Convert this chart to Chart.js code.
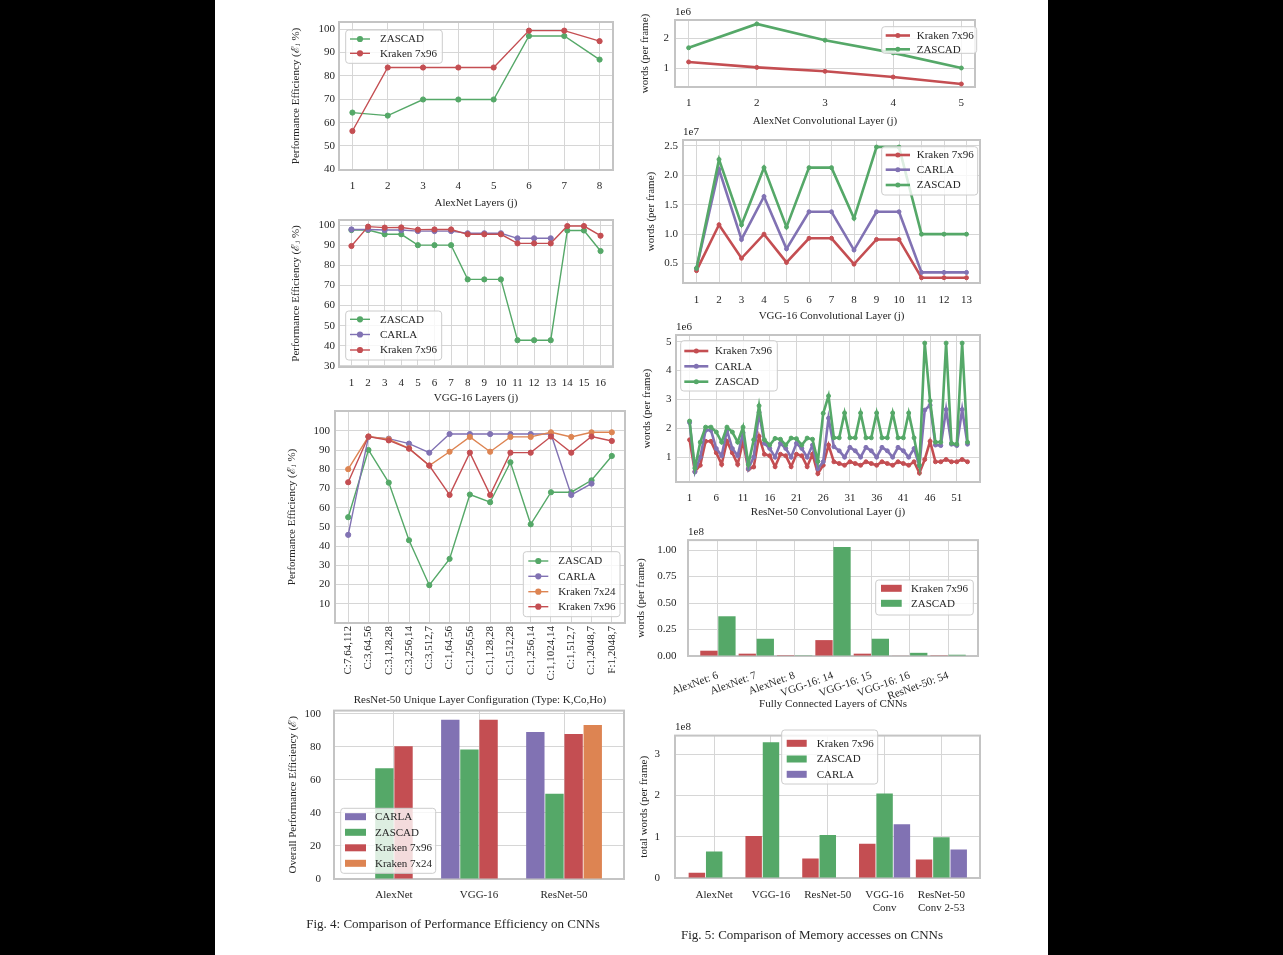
<!DOCTYPE html>
<html>
<head>
<meta charset="utf-8">
<script src="https://cdn.jsdelivr.net/npm/chart.js@4.4.0/dist/chart.umd.min.js"></script>
<style>
  html, body { margin: 0; padding: 0; width: 1283px; height: 955px; overflow: hidden; background: #000; }
  #paper { position: absolute; left: 215px; top: 0; width: 833px; height: 955px; background: #fff; }
  canvas { position: absolute; }
  .cap { position: absolute; font-family: 'Liberation Serif', 'Times New Roman', serif; font-size: 13px;
         color: #262626; white-space: nowrap; transform: translate(-50%, -50%); }
</style>
</head>
<body>
<div id="paper"></div>
<div id="charts"></div>
<div class="cap" style="left:453px; top:924px">Fig. 4: Comparison of Performance Efficiency on CNNs</div>
<div class="cap" style="left:812px; top:935px">Fig. 5: Comparison of Memory accesses on CNNs</div>
<script>
// ---- Fig. 4 data: performance efficiency (%) ----
const alexLayers = [1, 2, 3, 4, 5, 6, 7, 8];
const alexEffZascad = [64.3, 63, 69.9, 69.9, 69.9, 97.1, 97.1, 87];
const alexEffKraken96 = [56.4, 83.6, 83.6, 83.6, 83.6, 99.4, 99.4, 94.9];

const vggLayers = [1, 2, 3, 4, 5, 6, 7, 8, 9, 10, 11, 12, 13, 14, 15, 16];
const vggEffZascad = [97.5, 97.5, 95.4, 95.4, 90, 90, 90, 73, 73, 73, 42.8, 42.8, 42.8, 97.3, 97.3, 87.1];
const vggEffCarla = [97.8, 97.8, 97.5, 97.5, 97, 97, 97, 95.9, 95.9, 95.9, 93.4, 93.4, 93.4, null, null, null];
const vggEffKraken96 = [89.6, 99.2, 98.7, 98.8, 97.7, 97.8, 97.8, 95.4, 95.4, 95.4, 90.9, 90.9, 90.9, 99.5, 99.5, 94.7];

const resUnique = ['C:7,64,112', 'C:3,64,56', 'C:3,128,28', 'C:3,256,14', 'C:3,512,7', 'C:1,64,56', 'C:1,256,56',
  'C:1,128,28', 'C:1,512,28', 'C:1,256,14', 'C:1,1024,14', 'C:1,512,7', 'C:1,2048,7', 'F:1,2048,7'];
const resEffZascad = [55.1, 90.1, 73.1, 43.1, 19.7, 33.4, 66.9, 62.9, 83.7, 51.4, 68.1, 68.1, 74.3, 87];
const resEffCarla = [45.9, 96.9, 96, 93.4, 88.7, 98.4, 98.4, 98.4, 98.4, 98.4, 98.4, 66.7, 72.6, null];
const resEffKraken24 = [80.1, 97.1, 95.7, 91, 82, 89.2, 96.9, 89.2, 96.9, 96.9, 99.3, 96.9, 99.3, 99.3];
const resEffKraken96 = [73.3, 97.1, 95.1, 90.8, 82, 66.7, 88.7, 66.7, 88.7, 88.7, 97.1, 88.7, 97.1, 94.8];

const nets = ['AlexNet', 'VGG-16', 'ResNet-50'];
const overallCarla = [null, 96.4, 89.1];
const overallZascad = [67.1, 78.4, 51.7];
const overallKraken96 = [80.4, 96.4, 87.9];
const overallKraken24 = [null, null, 93.3];

// ---- Fig. 5 data: memory accesses (words per frame, in units of the axis offset) ----
const alexConvLayers = [1, 2, 3, 4, 5];                       // x1e6
const alexConvKraken96 = [1.22, 1.04, 0.91, 0.72, 0.49];
const alexConvZascad = [1.69, 2.48, 1.94, 1.52, 1.02];

const vggConvLayers = [1, 2, 3, 4, 5, 6, 7, 8, 9, 10, 11, 12, 13]; // x1e7
const vggConvKraken96 = [0.38, 1.16, 0.59, 1.0, 0.52, 0.93, 0.93, 0.49, 0.91, 0.91, 0.26, 0.26, 0.26];
const vggConvCarla = [0.42, 2.1, 0.91, 1.64, 0.75, 1.38, 1.38, 0.73, 1.38, 1.38, 0.35, 0.35, 0.35];
const vggConvZascad = [0.42, 2.27, 1.16, 2.13, 1.12, 2.13, 2.13, 1.27, 2.48, 2.48, 1.0, 1.0, 1.0];

const resConvLayers = Array.from({ length: 53 }, (_, i) => i + 1); // x1e6
const resConvKraken96 = [1.6, 0.5, 0.72, 1.55, 1.55, 1.15, 0.75, 1.55, 1.15, 0.75, 1.55,
  0.58, 0.66, 1.72, 1.1, 1.05, 0.67, 1.1, 1.05, 0.67, 1.1, 1.05, 0.67, 1.1,
  0.43, 0.72, 1.42, 0.84, 0.78, 0.72, 0.84, 0.78, 0.72, 0.84, 0.78, 0.72, 0.84, 0.78, 0.72, 0.84, 0.78, 0.72, 0.84,
  0.45, 0.92, 1.55, 0.84, 0.84, 0.92, 0.84, 0.84, 0.92, 0.84];
const resConvCarla = [2.2, 0.49, 1.0, 1.93, 1.93, 1.3, 1.05, 1.93, 1.3, 1.05, 1.85,
  0.6, 1.0, 2.55, 1.48, 1.3, 1.0, 1.48, 1.3, 1.0, 1.48, 1.3, 1.0, 1.42,
  0.6, 0.84, 2.35, 1.36, 1.22, 1.0, 1.34, 1.22, 1.0, 1.34, 1.22, 1.0, 1.34, 1.22, 1.0, 1.34, 1.22, 1.0, 1.3,
  0.7, 2.63, 2.8, 1.42, 1.4, 2.65, 1.45, 1.4, 2.65, 1.45];
const resConvZascad = [2.25, 0.62, 1.52, 2.04, 2.04, 1.87, 1.52, 2.04, 1.87, 1.52, 2.04,
  0.75, 1.6, 2.78, 1.6, 1.42, 1.65, 1.62, 1.42, 1.66, 1.64, 1.42, 1.66, 1.62,
  0.85, 2.52, 3.12, 1.67, 1.67, 2.53, 1.67, 1.67, 2.53, 1.67, 1.67, 2.53, 1.67, 1.67, 2.53, 1.67, 1.67, 2.53, 1.67,
  0.72, 4.95, 2.95, 1.52, 1.52, 4.95, 1.48, 1.45, 4.95, 1.52];

const fcLayers = ['AlexNet: 6', 'AlexNet: 7', 'AlexNet: 8', 'VGG-16: 14', 'VGG-16: 15', 'VGG-16: 16', 'ResNet-50: 54']; // x1e8
const fcKraken96 = [0.05, 0.022, 0.001, 0.15, 0.022, 0.004, 0.002];
const fcZascad = [0.375, 0.163, 0.002, 1.03, 0.163, 0.03, 0.012];

const totalNets = [['AlexNet'], ['VGG-16'], ['ResNet-50'], ['VGG-16', 'Conv'], ['ResNet-50', 'Conv 2-53']]; // x1e8
const totalKraken96 = [0.125, 1.02, 0.47, 0.83, 0.45];
const totalZascad = [0.64, 3.29, 1.04, 2.05, 0.99];
const totalCarla = [null, null, null, 1.3, 0.69];

// seaborn "deep"
const GREEN = '#55a868', RED = '#c44e52', PURPLE = '#8172b3', ORANGE = '#dd8452';
const INK = '#262626';
const FONT = "'Liberation Serif', 'Times New Roman', 'DejaVu Serif', serif";

Chart.defaults.font.family = FONT;
Chart.defaults.font.size = 11;
Chart.defaults.color = INK;
Chart.defaults.animation = false;

// frame round the plot area, "1eN" offset text and a matplotlib-like legend box
const paperFrame = {
  id: 'paperFrame',
  beforeDatasetsDraw(chart) {
    const a = chart.chartArea, c = chart.ctx;
    c.save();
    c.strokeStyle = '#c4c4c4';
    c.lineWidth = 2;
    c.strokeRect(a.left, a.top, a.right - a.left, a.bottom - a.top);
    c.restore();
  },
  afterDraw(chart, args, opts) {
    const c = chart.ctx, a = chart.chartArea;
    c.save();
    c.font = '11px ' + FONT;
    c.fillStyle = INK;
    c.textAlign = 'left';
    c.textBaseline = 'middle';
    if (opts.offsetText) c.fillText(opts.offsetText, a.left, a.top - 8);
    const L = opts.legend;
    if (L) {
      const ox = opts.ox, oy = opts.oy;
      const l = L.box[0] - ox, t = L.box[1] - oy, w = L.box[2] - L.box[0], h = L.box[3] - L.box[1], r = 3;
      c.beginPath();
      c.moveTo(l + r, t);
      c.arcTo(l + w, t, l + w, t + h, r);
      c.arcTo(l + w, t + h, l, t + h, r);
      c.arcTo(l, t + h, l, t, r);
      c.arcTo(l, t, l + w, t, r);
      c.closePath();
      c.fillStyle = 'rgba(255,255,255,0.8)';
      c.fill();
      c.strokeStyle = '#cccccc';
      c.lineWidth = 1;
      c.stroke();
      chart.data.datasets.forEach((ds, i) => {
        const y = L.rows[i] - oy, x1 = L.sample[0] - ox, x2 = L.sample[1] - ox;
        if (L.kind === 'bar') {
          c.fillStyle = ds.backgroundColor;
          c.fillRect(x1, y - 3.5, x2 - x1, 7);
        } else {
          c.strokeStyle = ds.borderColor;
          c.lineWidth = ds.borderWidth;
          c.beginPath(); c.moveTo(x1, y); c.lineTo(x2, y); c.stroke();
          c.fillStyle = ds.borderColor;
          c.beginPath(); c.arc((x1 + x2) / 2, y, ds.pointRadius + 0.5, 0, Math.PI * 2); c.fill();
        }
        c.fillStyle = INK;
        c.fillText(ds.label, L.textX - ox, y + 0.5);
      });
    }
    c.restore();
  }
};

function pts(xs, ys) {
  return ys.map((y, i) => ({ x: xs[i], y: y })).filter(p => p.y !== null);
}

function lineSet(label, color, xs, ys, thick) {
  return {
    label: label, data: pts(xs, ys), borderColor: color, backgroundColor: color,
    borderWidth: thick ? 2.6 : 1.4, pointRadius: thick ? 2 : 2.6, pointBorderWidth: 1,
    pointBackgroundColor: color, pointBorderColor: color, tension: 0
  };
}

function barSet(label, color, ys) {
  return { label: label, data: pts(ys.map((_, i) => i), ys), backgroundColor: color, borderWidth: 0 };
}

function axis(min, max, values, o) {
  o = o || {};
  return {
    type: 'linear', min: min, max: max, offset: false,
    grid: { color: '#d6d6d6', lineWidth: 1, drawTicks: false, offset: false },
    border: { display: false },
    afterBuildTicks: s => { s.ticks = values.map(v => ({ value: v })); },
    ticks: {
      autoSkip: false, minRotation: o.rot || 0, maxRotation: o.rot || 0,
      padding: o.pad == null ? 10 : o.pad, labelOffset: o.shift || 0,
      callback: o.fmt || (v => String(v))
    },
    title: o.title
      ? { display: true, text: o.title, padding: 0, font: { size: 11, lineHeight: 1.2 } }
      : { display: false }
  };
}

// box: plot area in page pixels, yt = centre x of the y title, xb = bottom of the x-axis block
function place(box, type, datasets, xAxis, yAxis, frame) {
  const left = Math.round(box.yt - 6.6), top = box.t - 16, right = box.r + 12;
  const cv = document.createElement('canvas');
  cv.width = right - left;
  cv.height = Math.round(box.xb - top);
  cv.style.left = left + 'px';
  cv.style.top = top + 'px';
  document.getElementById('charts').appendChild(cv);
  xAxis.afterFit = s => { s.height = cv.height - (box.b - top); };
  yAxis.afterFit = s => { s.width = box.l - left; };
  // matplotlib draws later lines on top (bars keep their group order)
  if (type === 'line') datasets.forEach((d, i) => { d.order = datasets.length - 1 - i; });
  return new Chart(cv, {
    type: type,
    data: { datasets: datasets },
    options: {
      responsive: false,
      animation: false,
      categoryPercentage: frame.cat || 0.8,
      barPercentage: frame.barPct || 1,
      layout: { padding: { left: 0, right: right - box.r, top: box.t - top, bottom: 0 } },
      scales: { x: xAxis, y: yAxis },
      plugins: {
        legend: { display: false },
        tooltip: { enabled: false },
        paperFrame: Object.assign({ ox: left, oy: top }, frame)
      }
    },
    plugins: [paperFrame]
  });
}

const EFF = 'Performance Efficiency (\u2130\u2C7C %)';
const WORDS = 'words (per frame)';
const tens = (a, b) => { const r = []; for (let v = a; v <= b; v += 10) r.push(v); return r; };

// ---------- Fig. 4 ----------
place({ l: 339, r: 613, t: 22, b: 170, yt: 297, xb: 210 }, 'line',
  [lineSet('ZASCAD', GREEN, alexLayers, alexEffZascad), lineSet('Kraken 7x96', RED, alexLayers, alexEffKraken96)],
  axis(0.62, 8.38, alexLayers, { title: 'AlexNet Layers (j)' }),
  axis(39.7, 103.1, tens(40, 100), { title: EFF, pad: 4 }),
  { legend: { box: [345.7, 30, 442.3, 63.3], rows: [39, 53.3], sample: [350, 370], textX: 380 } });

place({ l: 339, r: 613, t: 220, b: 367, yt: 297, xb: 405 }, 'line',
  [lineSet('ZASCAD', GREEN, vggLayers, vggEffZascad), lineSet('CARLA', PURPLE, vggLayers, vggEffCarla),
   lineSet('Kraken 7x96', RED, vggLayers, vggEffKraken96)],
  axis(0.25, 16.75, vggLayers, { title: 'VGG-16 Layers (j)' }),
  axis(29.5, 102.5, tens(30, 100), { title: EFF, pad: 4 }),
  { legend: { box: [345.7, 311, 441.7, 360], rows: [319.3, 334.5, 350], sample: [350, 370], textX: 380 } });

const resIdx = resUnique.map((_, i) => i);
place({ l: 335, r: 625, t: 411, b: 623, yt: 292.7, xb: 706.6 }, 'line',
  [lineSet('ZASCAD', GREEN, resIdx, resEffZascad), lineSet('CARLA', PURPLE, resIdx, resEffCarla),
   lineSet('Kraken 7x24', ORANGE, resIdx, resEffKraken24), lineSet('Kraken 7x96', RED, resIdx, resEffKraken96)],
  axis(-0.65, 13.65, resIdx, { title: 'ResNet-50 Unique Layer Configuration (Type: K,Co,Ho)', rot: 90, pad: 3,
    fmt: v => resUnique[v] }),
  axis(0, 110.4, tens(10, 100), { title: EFF, pad: 5 }),
  { legend: { box: [523.3, 551.7, 620, 616.7], rows: [561, 576.3, 591.7, 606.7], sample: [528.3, 548.3], textX: 558.3 } });

place({ l: 334, r: 624, t: 707, b: 879, yt: 293.3, xb: 915 }, 'bar',
  [barSet('CARLA', PURPLE, overallCarla), barSet('ZASCAD', GREEN, overallZascad),
   barSet('Kraken 7x96', RED, overallKraken96), barSet('Kraken 7x24', ORANGE, overallKraken24)],
  axis(-0.705, 2.705, [0, 1, 2], { pad: 9.5, fmt: v => nets[v] }),
  axis(0, 102, [0, 20, 40, 60, 80, 100], { title: 'Overall Performance Efficiency (\u2130)', pad: 13 }),
  { cat: 0.9, barPct: 0.96, legend: { kind: 'bar', box: [340.7, 808.3, 435.7, 873.3], rows: [816.7, 832.3, 847.8, 863.3],
    sample: [345, 366], textX: 375 } });

// ---------- Fig. 5 ----------
place({ l: 675, r: 975, t: 20, b: 87, yt: 646, xb: 128.3 }, 'line',
  [lineSet('Kraken 7x96', RED, alexConvLayers, alexConvKraken96, true),
   lineSet('ZASCAD', GREEN, alexConvLayers, alexConvZascad, true)],
  axis(0.8, 5.2, alexConvLayers, { title: 'AlexNet Convolutional Layer (j)' }),
  axis(0.39, 2.61, [1, 2], { title: WORDS, pad: 6 }),
  { offsetText: '1e6', legend: { box: [881.7, 26.7, 976.7, 53.3], rows: [35.5, 49.3], sample: [885.7, 910], textX: 916.7 } });

place({ l: 683, r: 980, t: 140, b: 283, yt: 651.7, xb: 323.3 }, 'line',
  [lineSet('Kraken 7x96', RED, vggConvLayers, vggConvKraken96, true),
   lineSet('CARLA', PURPLE, vggConvLayers, vggConvCarla, true),
   lineSet('ZASCAD', GREEN, vggConvLayers, vggConvZascad, true)],
  axis(0.4, 13.6, vggConvLayers, { title: 'VGG-16 Convolutional Layer (j)', pad: 10.5 }),
  axis(0.17, 2.6, [0.5, 1, 1.5, 2, 2.5], { title: WORDS, pad: 5, fmt: v => v.toFixed(1) }),
  { offsetText: '1e7', legend: { box: [881.7, 146.7, 977.7, 195], rows: [155, 169.7, 185], sample: [885.7, 910], textX: 916.7 } });

place({ l: 676, r: 980, t: 335, b: 482, yt: 647.7, xb: 519.3 }, 'line',
  [lineSet('Kraken 7x96', RED, resConvLayers, resConvKraken96, true),
   lineSet('CARLA', PURPLE, resConvLayers, resConvCarla, true),
   lineSet('ZASCAD', GREEN, resConvLayers, resConvZascad, true)],
  axis(-1.54, 55.34, [1, 6, 11, 16, 21, 26, 31, 36, 41, 46, 51], { title: 'ResNet-50 Convolutional Layer (j)' }),
  axis(0.14, 5.23, [1, 2, 3, 4, 5], { title: WORDS, pad: 4.5 }),
  { offsetText: '1e6', legend: { box: [680.7, 340.7, 777.3, 391], rows: [351, 366.3, 381.7], sample: [684.3, 708.3], textX: 715 } });

place({ l: 688, r: 978, t: 538, b: 656, yt: 641.7, xb: 711 }, 'bar',
  [barSet('Kraken 7x96', RED, fcKraken96), barSet('ZASCAD', GREEN, fcZascad)],
  axis(-0.78, 6.78, [0, 1, 2, 3, 4, 5, 6], { title: 'Fully Connected Layers of CNNs', rot: 20, pad: 13, fmt: v => fcLayers[v] }),
  axis(0, 1.094, [0, 0.25, 0.5, 0.75, 1], { title: WORDS, pad: 11.5, fmt: v => v.toFixed(2) }),
  { cat: 0.94, barPct: 0.96, offsetText: '1e8', legend: { kind: 'bar', box: [875.7, 580, 973.3, 615], rows: [588.3, 603.3],
    sample: [881, 901.7], textX: 911 } });

place({ l: 675, r: 980, t: 730, b: 878, yt: 645, xb: 925 }, 'bar',
  [barSet('Kraken 7x96', RED, totalKraken96), barSet('ZASCAD', GREEN, totalZascad), barSet('CARLA', PURPLE, totalCarla)],
  axis(-0.69, 4.68, [0, 1, 2, 3, 4], { pad: 10.4, fmt: v => totalNets[v] }),
  axis(0, 3.45, [0, 1, 2, 3], { title: 'total words (per frame)', pad: 15 }),
  { cat: 0.915, barPct: 0.95, offsetText: '1e8', legend: { kind: 'bar', box: [781.7, 730, 877.7, 784], rows: [743.3, 759, 774.3],
    sample: [786.7, 806.7], textX: 816.7 } });
</script>
</body>
</html>
